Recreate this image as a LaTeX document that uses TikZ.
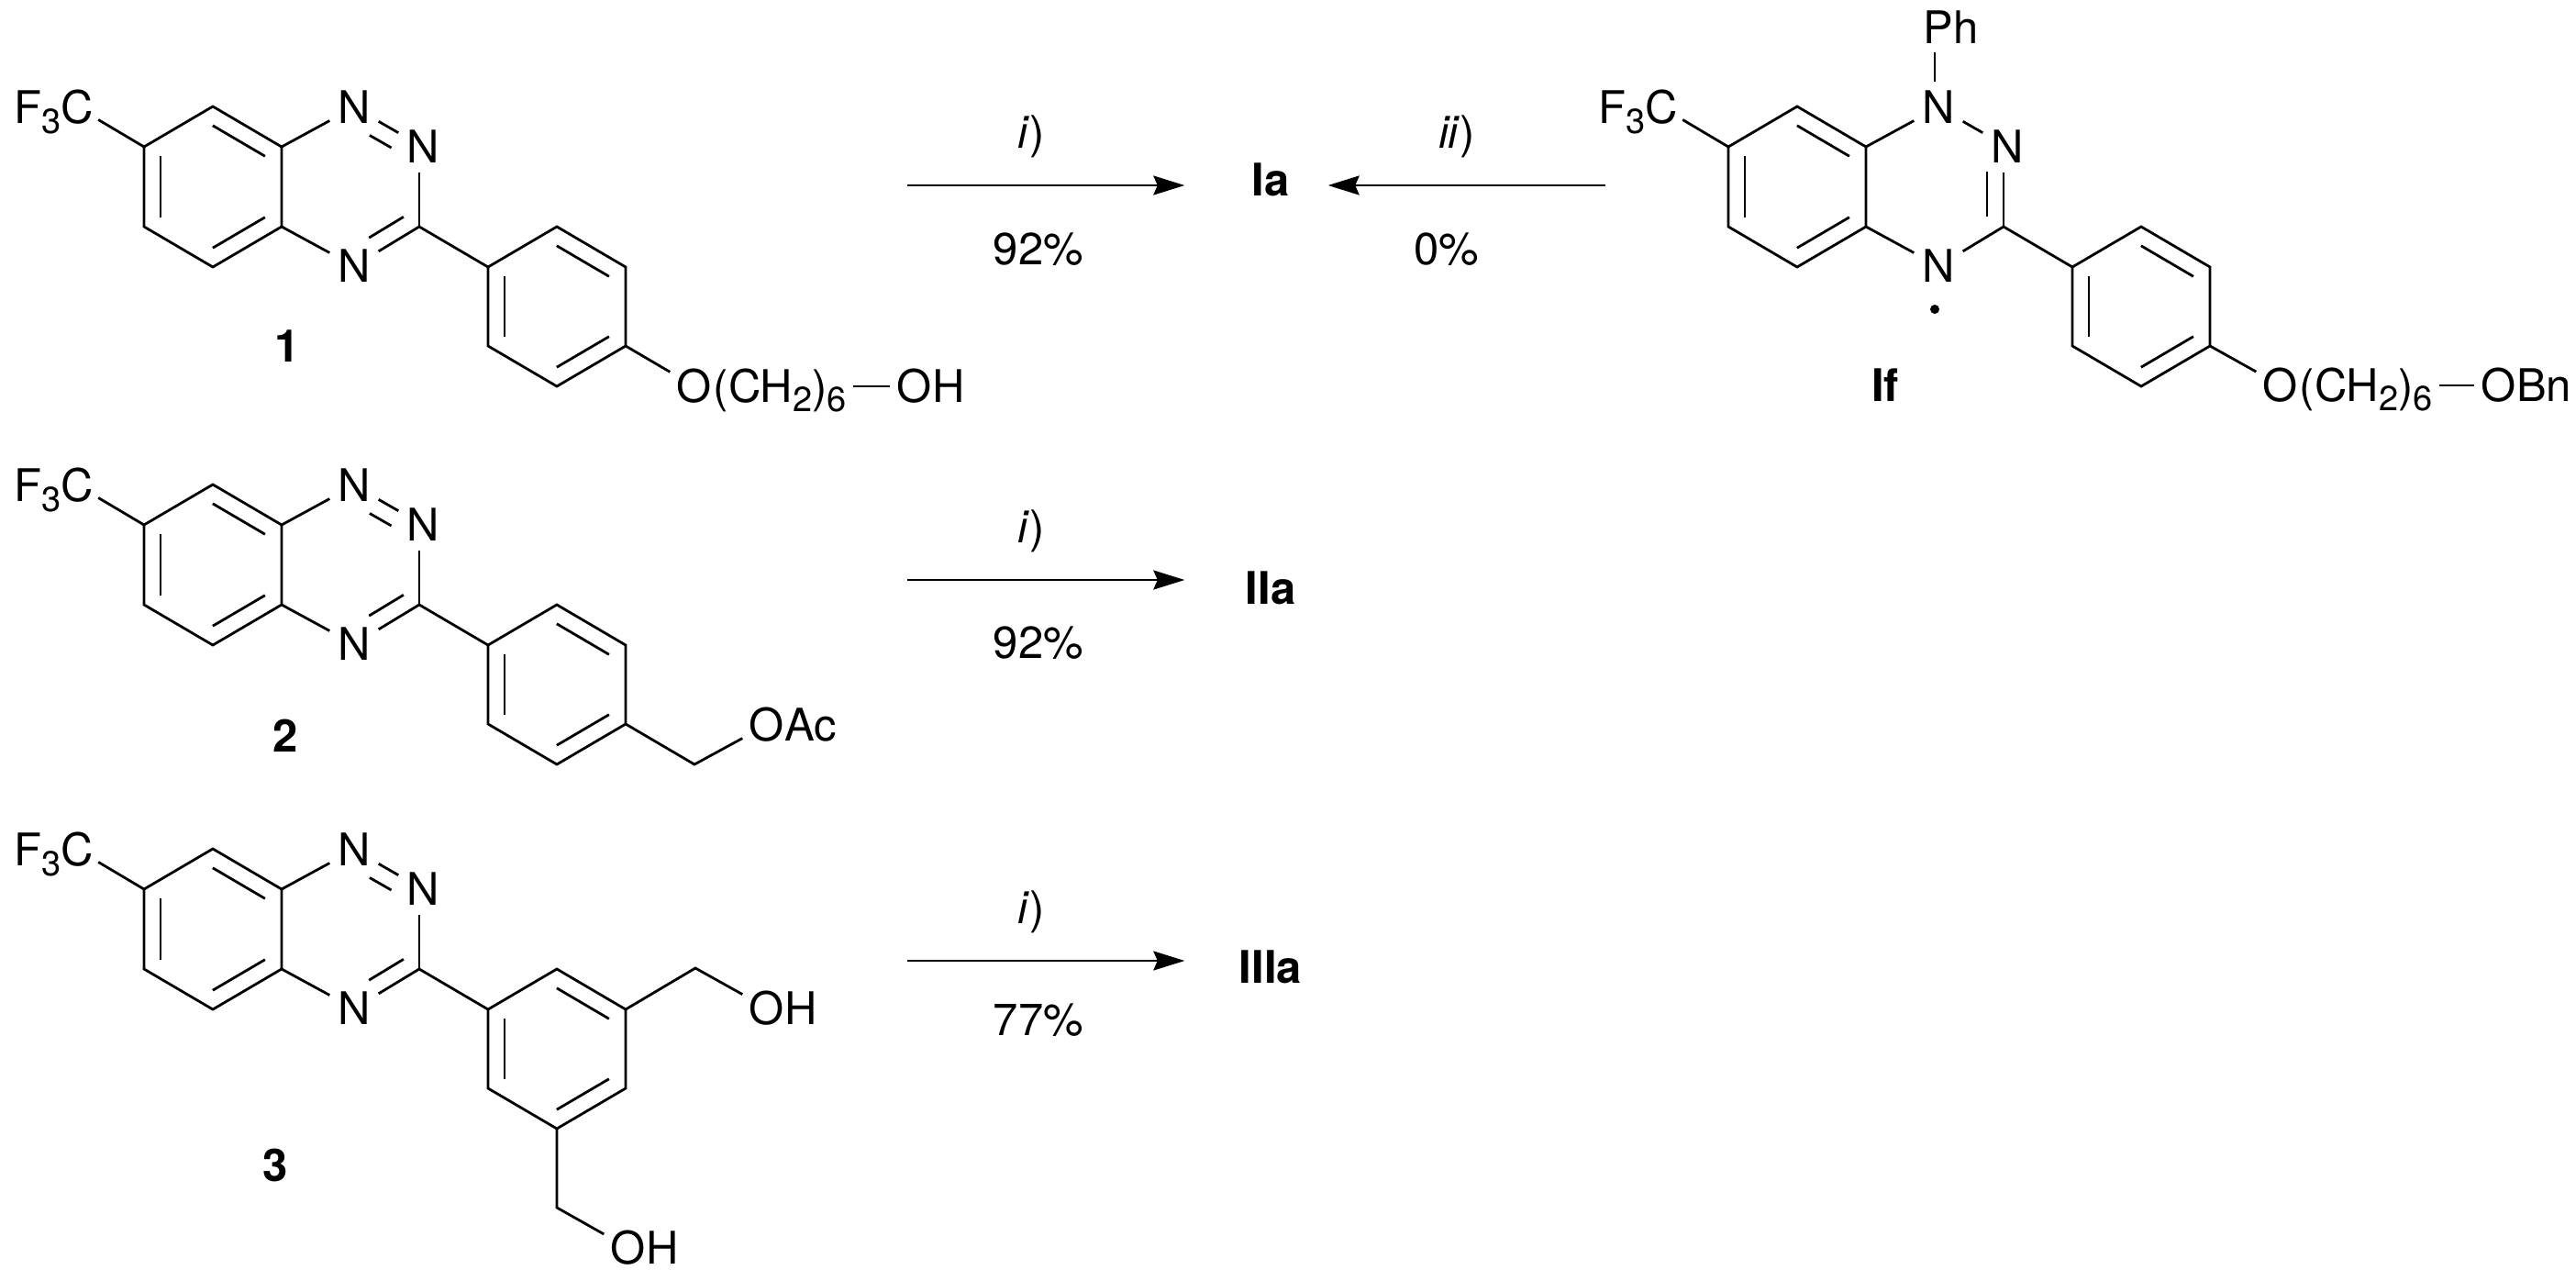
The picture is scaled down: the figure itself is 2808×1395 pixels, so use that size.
\documentclass[tikz,border=0pt]{standalone}
\usepackage{fontspec}
\setmainfont{TeX Gyre Heros}
\usetikzlibrary{calc,arrows.meta}

\newcommand{\chemfont}{\fontsize{13.94}{16}\selectfont}
\newcommand{\subs}[1]{\raisebox{-0.22em}{\fontsize{10.8}{11}\selectfont #1}}

\tikzset{
  bond/.style={line width=0.28mm},
  rxnarrow/.style={line width=0.22mm,-{Stealth[length=3.4mm,width=2.1mm,inset=0.45mm]}},
  atom/.style={font=\chemfont,inner sep=0pt,minimum width=5.2mm,minimum height=5.4mm,text height=3.57mm,text depth=0pt},
  lbl/.style={font=\chemfont,anchor=base,inner sep=0pt},
  cmpd/.style={font=\chemfont\bfseries,anchor=base,inner sep=0pt},
  prod/.style={cmpd,minimum width=18.6mm}
}

\newcommand{\innerbond}[4]{\draw[bond] ($(#1)!#3!(#2)!1.8mm!-90:(#2)$) -- ($(#1)!#4!(#2)!1.8mm!-90:(#2)$);}

\newcommand{\coreatoms}{
  \coordinate (c6) at (157,160);
  \coordinate (c7) at (232,116);
  \coordinate (c8) at (307,160);
  \coordinate (c9) at (307,247);
  \coordinate (c10) at (232,291);
  \coordinate (c11) at (157,247);
  \coordinate (c3) at (457,247);
  \node[atom] (n1) at (386,117) {N};
  \node[atom] (n2) at (461,160) {N};
  \node[atom] (n4) at (386,290) {N};
  \node[atom,minimum width=4.4mm] (cf3) at (84.5,117) {\llap{F\subs{3}}C};
  \coordinate (n2c) at (c3 |- n2);
  \draw[bond] (c6) -- (c7) -- (c8) -- (c9) -- (c10) -- (c11) -- cycle;
  \innerbond{c7}{c8}{0.12}{0.88}
  \innerbond{c9}{c10}{0.12}{0.88}
  \innerbond{c11}{c6}{0.12}{0.88}
  \draw[bond] (c6) -- (cf3);
  \draw[bond] (c8) -- (n1);
  \draw[bond] (n1) -- (n2);
  \draw[bond] (c3) -- (c3 |- n2.south);
  \draw[bond] (c3) -- (n4);
  \draw[bond] (c9) -- (n4);
}

\newcommand{\arylring}{
  \coordinate (a1) at (532,291);
  \coordinate (a2) at (607,247);
  \coordinate (a3) at (682,291);
  \coordinate (a4) at (682,377);
  \coordinate (a5) at (607,421);
  \coordinate (a6) at (532,377);
  \draw[bond] (a1) -- (a2) -- (a3) -- (a4) -- (a5) -- (a6) -- cycle;
  \innerbond{a2}{a3}{0.12}{0.88}
  \innerbond{a4}{a5}{0.12}{0.88}
  \innerbond{a6}{a1}{0.12}{0.88}
  \draw[bond] (c3) -- (a1);
}

\newcommand{\azobonds}{
  \innerbond{n1}{n2}{0.345}{0.66}
  \innerbond{c3}{n4}{0.11}{0.64}
}

\begin{document}
\begin{tikzpicture}[x=0.1mm,y=-0.1mm]
\useasboundingbox (0,0) rectangle (2808,1395);

\begin{scope}[name prefix=one-]
\coreatoms
\azobonds
\arylring
\node[atom] (o) at (757,421) {O};
\node[lbl,anchor=base west,inner xsep=0.6mm] (chain) at (771,438) {(CH\subs{2})\subs{6}};
\node[atom] (oh) at (997,421) {O\rlap{H}};
\draw[bond] (a4) -- (o);
\draw[bond] (chain.east |- oh) -- (oh);
\node[cmpd] (lab) at (313,394) {1};
\end{scope}

\begin{scope}[shift={(0,412)},name prefix=two-]
\coreatoms
\azobonds
\arylring
\coordinate (ch2) at (757,421);
\node[atom] (oac) at (836,378) {O\rlap{Ac}};
\draw[bond] (a4) -- (ch2) -- (oac);
\node[cmpd] (lab) at (311,407) {2};
\end{scope}

\begin{scope}[shift={(0,809)},name prefix=three-]
\coreatoms
\azobonds
\arylring
\coordinate (ch2a) at (758,246);
\coordinate (ch2b) at (607,507);
\node[atom] (oha) at (836,289.5) {O\rlap{H}};
\node[atom] (ohb) at (685,551) {O\rlap{H}};
\draw[bond] (a3) -- (ch2a) -- (oha);
\draw[bond] (a5) -- (ch2b) -- (ohb);
\node[cmpd] (lab) at (300,478) {3};
\end{scope}

\begin{scope}[shift={(1727,0)},name prefix=rad-]
\coreatoms
\arylring
\innerbond{n2c}{c3}{0.31}{0.875}
\node[atom] (ph) at (386,29.5) {P\rlap{h}};
\node[fill=black,circle,inner sep=0pt,minimum size=1mm] (dot) at (382,337) {};
\draw[bond] (n1.north -| dot) -- (ph.south -| dot);
\node[atom] (o) at (759,420) {O};
\node[lbl,anchor=base west,inner xsep=0.6mm] (chain) at (773,437) {(CH\subs{2})\subs{6}};
\node[atom] (obn) at (997,420) {O\rlap{Bn}};
\draw[bond] (a4) -- (o);
\draw[bond] (chain.east |- obn) -- (obn);
\node[cmpd] (lab) at (328,437) {If};
\end{scope}

\coordinate (t1) at (989,202);
\coordinate (t2) at (1750,202);
\coordinate (t3) at (989,632);
\coordinate (t4) at (989,1047);
\node[prod] (ia) at (1385,213) {Ia};
\node[prod] (iia) at (1385,658) {IIa};
\node[prod] (iiia) at (1385,1071) {IIIa};
\draw[rxnarrow] (t1) -- (t1 -| ia.west);
\draw[rxnarrow,shorten >=-3.1mm] (t2) -- (t2 -| ia.east);
\draw[rxnarrow] (t3) -- (t3 -| iia.west);
\draw[rxnarrow] (t4) -- (t4 -| iiia.west);

\node[lbl] (top1) at (1124,161) {\textit{i})};
\node[lbl] (top2) at (1588,161) {\textit{ii})};
\node[lbl] (top3) at (1124,591) {\textit{i})};
\node[lbl] (top4) at (1124,1006) {\textit{i})};
\node[lbl] (yield1) at (1132,288) {92\%};
\node[lbl] (yield2) at (1577,288) {0\%};
\node[lbl] (yield3) at (1132,717) {92\%};
\node[lbl] (yield4) at (1132,1128) {77\%};
\end{tikzpicture}
\end{document}
